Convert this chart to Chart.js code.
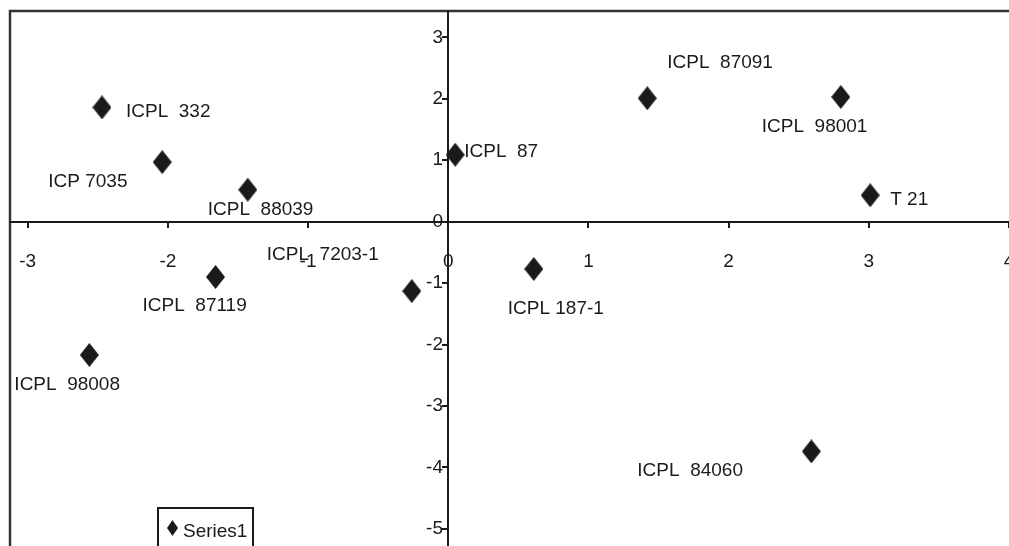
<!DOCTYPE html>
<html lang="en">
<head>
<meta charset="UTF-8">
<script src="https://cdn.jsdelivr.net/npm/chart.js"></script>
<title>Scatter</title>
<style>
  html, body { margin: 0; padding: 0; background: #fff; }
</style>
</head>
<body>
<canvas id="scatterChart" width="1009" height="546"></canvas>

<script>
    // data
    const seriesName = 'Series1';
    const pointLabels = ['ICPL  332', 'ICP 7035', 'ICPL  88039', 'ICPL  87119', 'ICPL  98008', 'ICPL  7203-1',
                         'ICPL  87', 'ICPL 187-1', 'ICPL  87091', 'ICPL  98001', 'T 21', 'ICPL  84060'];
    const xValues = [-2.47, -2.04, -1.43, -1.66, -2.56, -0.26, 0.05, 0.61, 1.42, 2.80, 3.01, 2.59];
    const yValues = [1.86, 0.97, 0.52, -0.90, -2.17, -1.13, 1.09, -0.77, 2.01, 2.03, 0.43, -3.74];
    const xTicks = [-3, -2, -1, 0, 1, 2, 3, 4];
    const yTicks = [3, 2, 1, 0, -1, -2, -3, -4, -5];

    // where each label sits relative to its marker (left edge, text middle)
    const labelOffsets = [[24, 3], [-114, 18], [-40, 18], [-73, 27], [-75, 28], [-145, -38],
                          [9, -5], [-26, 38], [20, -37], [-79, 28], [20, 3], [-174, 18]];

    const FONT = '19px "Liberation Sans", Arial, sans-serif';
    const INK = '#1a1a1a';

    function diamond(w, h, color) {
        const c = document.createElement('canvas');
        c.width = w; c.height = h;
        const g = c.getContext('2d');
        g.fillStyle = color;
        g.beginPath();
        g.moveTo(w / 2, 0); g.lineTo(w, h / 2); g.lineTo(w / 2, h); g.lineTo(0, h / 2);
        g.closePath();
        g.fill();
        return c;
    }
    const marker = diamond(19, 24, '#1a1a1a');
    const smallMarker = diamond(11, 16, '#1a1a1a');

    // plot frame (left and top edges only show)
    const framePlugin = {
        id: 'frame',
        beforeDraw(chart) {
            const a = chart.chartArea, c = chart.ctx;
            c.save();
            c.strokeStyle = '#333';
            c.lineWidth = 2.5;
            c.beginPath();
            c.moveTo(a.left, a.bottom + 5);
            c.lineTo(a.left, a.top);
            c.lineTo(a.right + 5, a.top);
            c.stroke();
            c.restore();
        }
    };

    // point labels + legend box
    const labelPlugin = {
        id: 'pointText',
        afterDraw(chart) {
            const c = chart.ctx;
            const meta = chart.getDatasetMeta(0);
            c.save();
            c.font = FONT;
            c.fillStyle = INK;
            c.textAlign = 'left';
            c.textBaseline = 'alphabetic';
            meta.data.forEach((pt, i) => {
                const off = labelOffsets[i];
                c.fillText(pointLabels[i], pt.x + off[0], pt.y + off[1] + 7);
            });

            // legend
            const lx = 158, ly = 508;
            c.strokeStyle = INK;
            c.lineWidth = 2;
            c.strokeRect(lx, ly, 95, 60);
            c.drawImage(smallMarker, lx + 9, ly + 12);
            c.fillText(chart.data.datasets[0].label, lx + 25, ly + 29);
            c.restore();
        }
    };

    function zeroFit(scale) {
        if (scale.isHorizontal()) scale.height = 0; else scale.width = 0;
        scale.paddingLeft = 0; scale.paddingRight = 0;
        scale.paddingTop = 0; scale.paddingBottom = 0;
    }

    const tickFont = { family: '"Liberation Sans", Arial, sans-serif', size: 19 };

    const ctx = document.getElementById('scatterChart').getContext('2d');
    const scatterChart = new Chart(ctx, {
        type: 'scatter',
        data: {
            datasets: [{
                label: seriesName,
                data: xValues.map((x, i) => ({ x: x, y: yValues[i] })),
                pointStyle: marker,
                pointRadius: 9,
                pointHoverRadius: 9
            }]
        },
        options: {
            responsive: false,
            animation: false,
            layout: { autoPadding: false, padding: { left: 10, top: 11, right: 0, bottom: 0 } },
            plugins: {
                legend: { display: false },
                tooltip: { enabled: false }
            },
            scales: {
                x: {
                    type: 'linear',
                    min: -3.126,
                    max: 4,
                    position: { y: 0 },
                    grid: { drawOnChartArea: false, drawTicks: true, tickLength: 5, color: INK, lineWidth: 2 },
                    border: { color: INK, width: 2 },
                    ticks: { font: tickFont, color: INK, padding: 24, maxRotation: 0, autoSkip: false },
                    afterBuildTicks: s => { s.ticks = xTicks.map(v => ({ value: v })); },
                    afterFit: zeroFit
                },
                y: {
                    type: 'linear',
                    min: -5.28,
                    max: 3.43,
                    position: { x: 0 },
                    grid: { drawOnChartArea: false, drawTicks: true, tickLength: 5, color: INK, lineWidth: 2 },
                    border: { color: INK, width: 2 },
                    ticks: {
                        font: tickFont, color: INK, autoSkip: false,
                        // labels sit flush on the axis line when the axis is placed at x=0, so pad with a space
                        callback: v => v + ' '
                    },
                    afterBuildTicks: s => { s.ticks = yTicks.map(v => ({ value: v })); },
                    afterFit: zeroFit
                }
            }
        },
        plugins: [framePlugin, labelPlugin]
    });
</script>
</body>
</html>
